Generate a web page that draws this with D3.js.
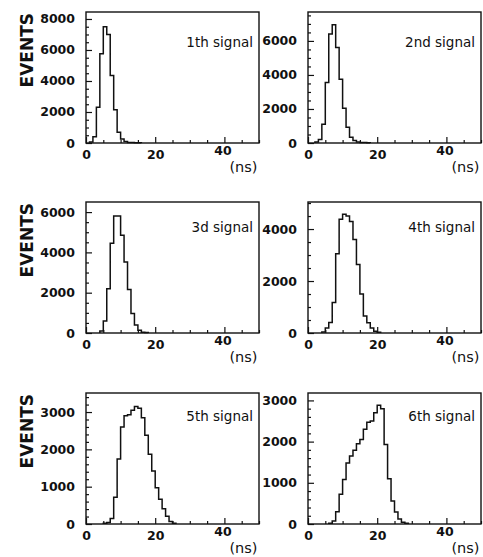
<!DOCTYPE html>
<html>
<head>
<meta charset="utf-8">
<script src="https://cdn.jsdelivr.net/npm/d3@7"></script>
<style>
  html, body { margin: 0; padding: 0; background: #fff; }
  svg { display: block; }
  text { font-family: "DejaVu Sans", sans-serif; fill: #111; }
</style>
</head>
<body>
<svg id="chart" width="483" height="557"></svg>
<script>
// --- data (1 ns bins) ---
const signalLabels = ['1th signal', '2nd signal', '3d signal', '4th signal', '5th signal', '6th signal'];
const binStart = [1, 2, 4, 4, 5, 6];   // lower edge of first bin, ns
const binWidth = 1;

const counts1 = [60, 400, 2300, 5750, 7500, 7000, 4350, 2150, 700, 260, 90, 40, 30, 20, 20];
const counts2 = [60, 200, 1100, 3560, 6400, 6950, 5620, 3750, 2040, 930, 340, 150, 60, 30, 30, 20];
const counts3 = [100, 600, 2200, 4450, 5800, 5800, 4850, 3520, 2160, 970, 400, 140, 40, 20];
const counts4 = [40, 190, 400, 1170, 3050, 4380, 4570, 4500, 4290, 3600, 2640, 1500, 650, 390, 190, 70, 30];
const counts5 = [20, 40, 150, 720, 1740, 2600, 2900, 2930, 3050, 3150, 3100, 2850, 2380, 1870, 1420, 970, 660, 410, 210, 70, 20];
const counts6 = [20, 70, 300, 720, 1080, 1480, 1650, 1790, 1950, 2050, 2300, 2470, 2500, 2700, 2880, 2800, 1930, 1100, 560, 290, 120, 40, 20];
const allCounts = [counts1, counts2, counts3, counts4, counts5, counts6];

const xDomain = [0, 50];
const xTickLabels = [0, 20, 40];
const xMinorStep = 5;
const yMax = [8450, 7700, 6500, 5040, 3510, 3180];
const yTickLabels = [
  [0, 2000, 4000, 6000, 8000],
  [0, 2000, 4000, 6000],
  [0, 2000, 4000, 6000],
  [0, 2000, 4000],
  [0, 1000, 2000, 3000],
  [0, 1000, 2000, 3000],
];
const yMinorStep = [500, 500, 500, 500, 200, 200];

// --- layout ---
const COL_X = [86, 308];
const ROW_Y = [12, 202, 393];
const PW = 173, PH = 131;
const LABEL_DY = [35, 30, 28];   // signal label baseline below frame top, per row

const svg = d3.select('#chart');

allCounts.forEach((counts, i) => {
  const col = i % 2, row = Math.floor(i / 2);
  const g = svg.append('g').attr('transform', `translate(${COL_X[col]},${ROW_Y[row]})`);

  const x = d3.scaleLinear().domain(xDomain).range([0, PW]);
  const y = d3.scaleLinear().domain([0, yMax[i]]).range([PH, 0]);

  // minor ticks (inward)
  const xMinor = d3.range(xDomain[0], xDomain[1] + 0.001, xMinorStep).filter(v => !xTickLabels.includes(v));
  g.append('g').attr('transform', `translate(0,${PH})`)
    .call(d3.axisBottom(x).tickValues(xMinor).tickSize(-3).tickFormat(''))
    .call(a => a.select('.domain').remove());
  const yMinor = d3.range(0, yMax[i], yMinorStep[i]).filter(v => !yTickLabels[i].includes(v));
  g.append('g')
    .call(d3.axisLeft(y).tickValues(yMinor).tickSize(-3).tickFormat(''))
    .call(a => a.select('.domain').remove());

  // major ticks + labels
  g.append('g').attr('class', 'xax').attr('transform', `translate(0,${PH})`)
    .call(d3.axisBottom(x).tickValues(xTickLabels).tickSize(-6).tickPadding(7).tickFormat(d3.format('d')))
    .call(a => a.select('.domain').remove())
    .call(a => a.selectAll('.tick').filter(d => d === 40).select('text').attr('y', 3).attr('x', -2));
  g.append('g').attr('class', 'yax')
    .call(d3.axisLeft(y).tickValues(yTickLabels[i]).tickSize(-6).tickPadding(11).tickFormat(d3.format('d')))
    .call(a => a.select('.domain').remove());

  g.selectAll('.tick line').attr('stroke', '#111').attr('stroke-width', 1.2);
  g.selectAll('.tick text')
    .attr('font-family', '"DejaVu Sans", sans-serif')
    .attr('font-size', 12.5).attr('font-weight', 'bold').attr('fill', '#111');

  // histogram outline
  const s = binStart[i];
  const pts = [[s, 0]].concat(counts.map((c, k) => [s + k * binWidth, c]), [[s + counts.length * binWidth, 0]]);
  const line = d3.line().x(d => x(d[0])).y(d => y(d[1])).curve(d3.curveStepAfter);
  g.append('path').datum(pts)
    .attr('d', line)
    .attr('fill', 'none').attr('stroke', '#111').attr('stroke-width', 1.5);

  // frame
  g.append('rect').attr('width', PW).attr('height', PH)
    .attr('fill', 'none').attr('stroke', '#111').attr('stroke-width', 1.4);

  // signal label
  g.append('text')
    .attr('x', PW - 6).attr('y', LABEL_DY[row])
    .attr('text-anchor', 'end')
    .attr('font-size', 13.5)
    .text(signalLabels[i]);

  // (ns) unit under the last x label
  g.append('text')
    .attr('x', x(40) + 5).attr('y', PH + 29)
    .attr('font-size', 14.5)
    .text('(ns)');

  // EVENTS on the left column
  if (col === 0) {
    g.append('text')
      .attr('transform', `translate(${33 - COL_X[0]},1) rotate(-90)`)
      .attr('text-anchor', 'end')
      .attr('font-family', '"Liberation Sans", Arial, sans-serif')
      .attr('font-weight', 'bold')
      .attr('font-size', 17)
      .text('EVENTS');
  }
});
</script>
</body>
</html>
